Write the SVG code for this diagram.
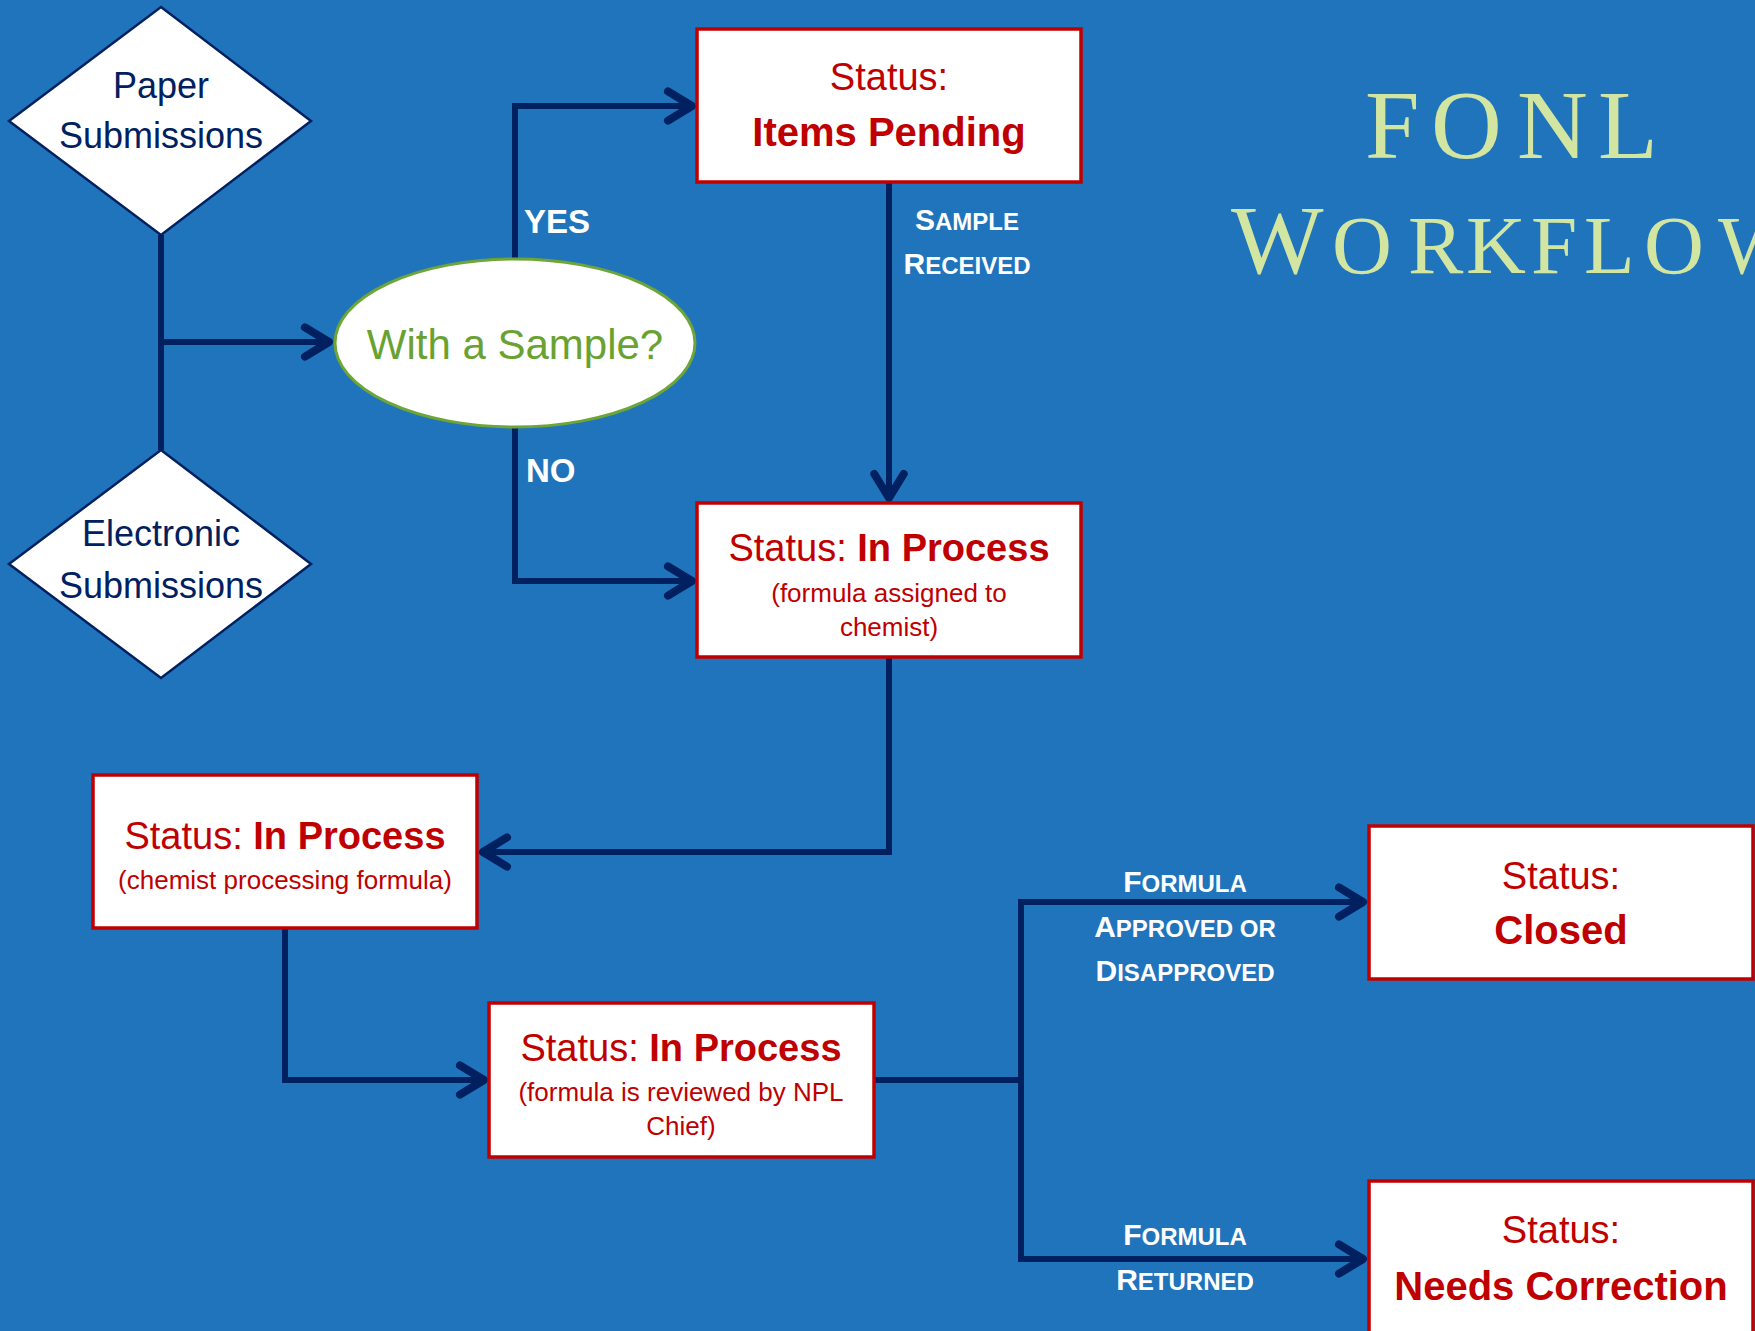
<svg xmlns="http://www.w3.org/2000/svg" width="1755" height="1331" viewBox="0 0 1755 1331">
<defs>
<style>
.bg{fill:#1F74BC}
.box{fill:#FFFFFF;stroke:#C00000;stroke-width:3.5}
.dia{fill:#FFFFFF;stroke:#002060;stroke-width:2.5}
.ell{fill:#FFFFFF;stroke:#6DA636;stroke-width:3}
.con{fill:none;stroke:#002060;stroke-width:6;stroke-linejoin:miter}
.arr{fill:none;stroke:#002060;stroke-width:6;stroke-linejoin:miter;marker-end:url(#chev)}
.navy{font-family:"Liberation Sans",Arial,sans-serif;font-size:36px;fill:#002060;text-anchor:middle}
.st{font-family:"Liberation Sans",Arial,sans-serif;font-size:38px;fill:#C00000;text-anchor:middle}
.stb{font-weight:bold}
.big{font-family:"Liberation Sans",Arial,sans-serif;font-size:40px;font-weight:bold;fill:#C00000;text-anchor:middle}
.sub{font-family:"Liberation Sans",Arial,sans-serif;font-size:26px;fill:#C00000;text-anchor:middle}
.lbl{font-family:"Liberation Sans",Arial,sans-serif;font-size:30px;font-weight:bold;fill:#FFFFFF;text-anchor:middle}
.sc{font-size:24px}
.yn{font-family:"Liberation Sans",Arial,sans-serif;font-size:33px;font-weight:bold;fill:#FFFFFF}
.title{font-family:"Liberation Serif","Times New Roman",serif;fill:#D3E6A1}
</style>
<marker id="chev" markerUnits="userSpaceOnUse" markerWidth="40" markerHeight="40" viewBox="-25 -15 30 30" refX="0" refY="0" orient="auto">
<path d="M-18 -11 L0 0 L-18 11" fill="none" stroke="#002060" stroke-width="6" stroke-linecap="round" stroke-linejoin="round"/>
</marker>
</defs>
<rect class="bg" x="0" y="0" width="1755" height="1331"/>

<g id="title">
<text class="title" y="158" font-size="98"><tspan x="1365 1431 1517 1598">FONL</tspan></text>
<text class="title" y="273"><tspan x="1231" font-size="98">W</tspan><tspan x="1332 1408 1466 1531 1584 1644 1718" font-size="83">ORKFLOW</tspan></text>
</g>

<g id="connectors">
<path class="con" d="M161 235 L161 450"/>
<path class="arr" d="M161 342 L329 342"/>
<path class="arr" d="M515 259 L515 106 L692 106"/>
<path class="arr" d="M515 427 L515 581 L692 581"/>
<path class="arr" d="M889 182 L889 498"/>
<path class="arr" d="M889 657 L889 852 L483 852"/>
<path class="arr" d="M285 928 L285 1080 L484 1080"/>
<path class="arr" d="M874 1080 L1021 1080 L1021 902 L1363 902"/>
<path class="arr" d="M1021 1077 L1021 1259 L1363 1259"/>
</g>

<g id="labels">
<text class="yn" x="524" y="233">YES</text>
<text class="yn" x="526" y="482">NO</text>
<text class="lbl" x="967" y="230">S<tspan class="sc">AMPLE</tspan></text>
<text class="lbl" x="967" y="274">R<tspan class="sc">ECEIVED</tspan></text>
<text class="lbl" x="1185" y="892">F<tspan class="sc">ORMULA</tspan></text>
<text class="lbl" x="1185" y="937">A<tspan class="sc">PPROVED OR</tspan></text>
<text class="lbl" x="1185" y="981">D<tspan class="sc">ISAPPROVED</tspan></text>
<text class="lbl" x="1185" y="1245">F<tspan class="sc">ORMULA</tspan></text>
<text class="lbl" x="1185" y="1290">R<tspan class="sc">ETURNED</tspan></text>
</g>

<g id="paper">
<polygon class="dia" points="161,7 311,121 161,235 9,121"/>
<text class="navy" x="161" y="98">Paper</text>
<text class="navy" x="161" y="148">Submissions</text>
</g>

<g id="electronic">
<polygon class="dia" points="161,450 311,564 161,678 9,564"/>
<text class="navy" x="161" y="546">Electronic</text>
<text class="navy" x="161" y="598">Submissions</text>
</g>

<g id="sample">
<ellipse class="ell" cx="515" cy="343" rx="180" ry="84"/>
<text x="515" y="359" font-family="Liberation Sans, Arial, sans-serif" font-size="42" fill="#6AA232" text-anchor="middle">With a Sample?</text>
</g>

<g id="pending">
<rect class="box" x="697" y="29" width="384" height="153"/>
<text class="st" x="889" y="90">Status:</text>
<text class="big" x="889" y="146">Items Pending</text>
</g>

<g id="inprocess1">
<rect class="box" x="697" y="503" width="384" height="154"/>
<text class="st" x="889" y="561">Status: <tspan class="stb">In Process</tspan></text>
<text class="sub" x="889" y="602">(formula assigned to</text>
<text class="sub" x="889" y="636">chemist)</text>
</g>

<g id="inprocess2">
<rect class="box" x="93" y="775" width="384" height="153"/>
<text class="st" x="285" y="849">Status: <tspan class="stb">In Process</tspan></text>
<text class="sub" x="285" y="889">(chemist processing formula)</text>
</g>

<g id="inprocess3">
<rect class="box" x="489" y="1003" width="385" height="154"/>
<text class="st" x="681" y="1061">Status: <tspan class="stb">In Process</tspan></text>
<text class="sub" x="681" y="1101">(formula is reviewed by NPL</text>
<text class="sub" x="681" y="1135">Chief)</text>
</g>

<g id="closed">
<rect class="box" x="1369" y="826" width="384" height="153"/>
<text class="st" x="1561" y="889">Status:</text>
<text class="big" x="1561" y="944">Closed</text>
</g>

<g id="needscorrection">
<rect class="box" x="1369" y="1181" width="384" height="160"/>
<text class="st" x="1561" y="1243">Status:</text>
<text class="big" x="1561" y="1300">Needs Correction</text>
</g>
</svg>
